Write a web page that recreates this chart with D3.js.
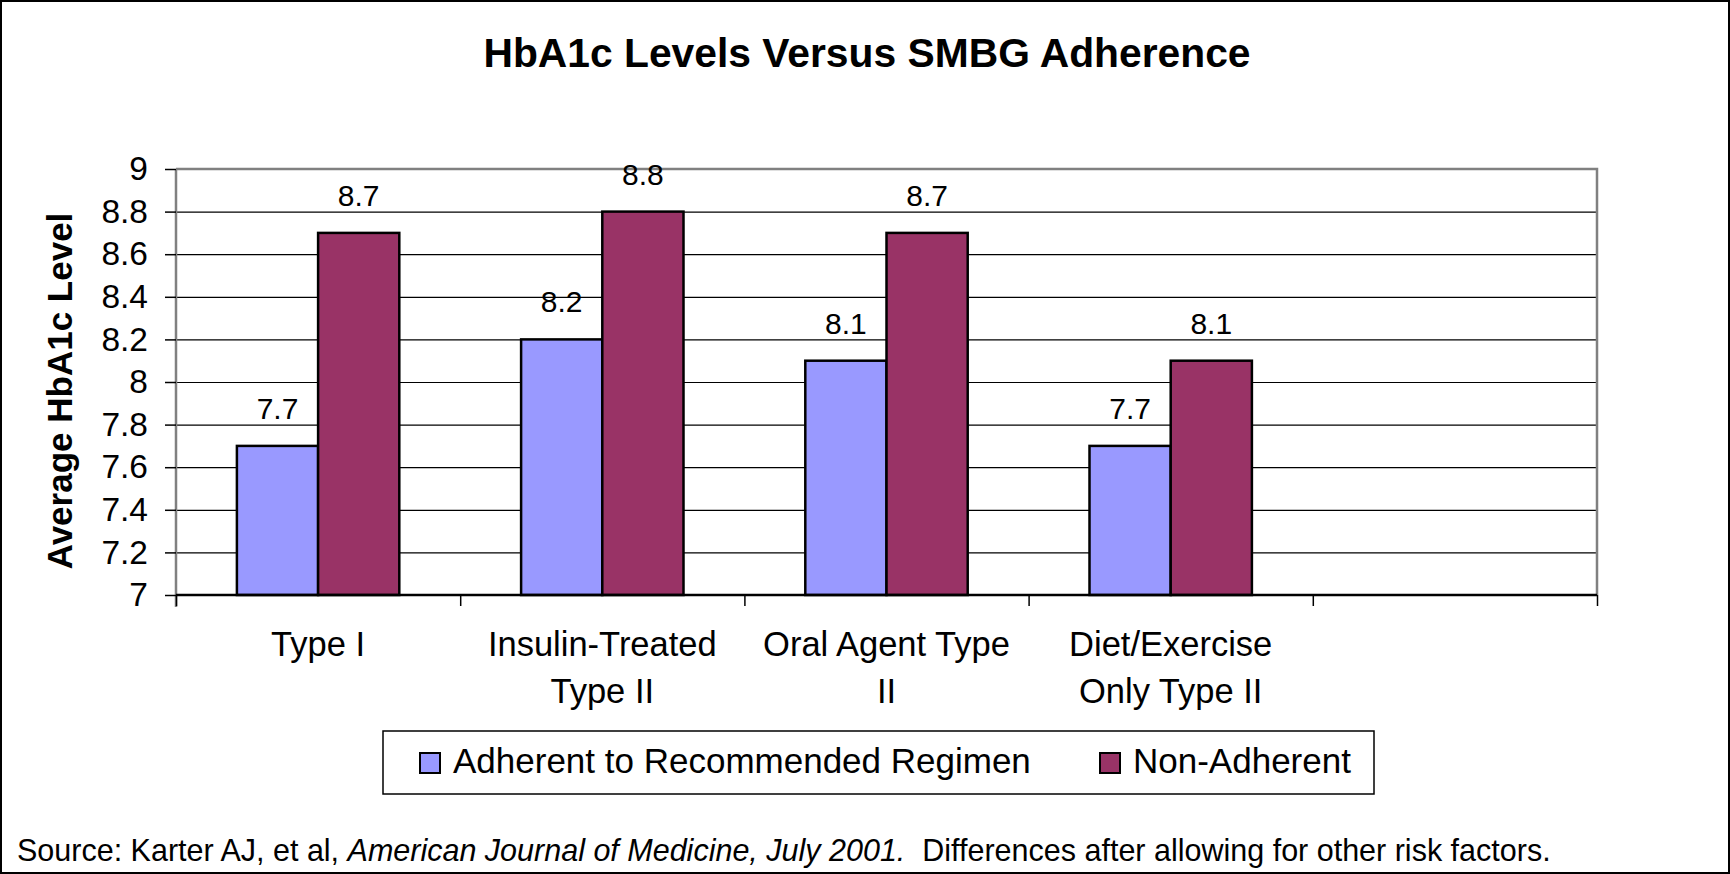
<!DOCTYPE html>
<html>
<head>
<meta charset="utf-8">
<script src="https://cdn.jsdelivr.net/npm/d3@7"></script>
<style>
  html, body { margin: 0; padding: 0; background: #fff; }
  svg { display: block; font-family: "Liberation Sans", Arial, sans-serif; }
</style>
</head>
<body>
<svg id="chart" width="1730" height="874"></svg>
<script>
// ---- data ----
const categories = ["Type I", "Insulin-Treated Type II", "Oral Agent Type II", "Diet/Exercise Only Type II", ""];
const categoryLines = [["Type I"], ["Insulin-Treated", "Type II"], ["Oral Agent Type", "II"], ["Diet/Exercise", "Only Type II"], []];
const seriesNames = ["Adherent to Recommended Regimen", "Non-Adherent"];
const adherent = [7.7, 8.2, 8.1, 7.7];
const nonAdherent = [8.7, 8.8, 8.7, 8.1];
const yTicks = [7, 7.2, 7.4, 7.6, 7.8, 8, 8.2, 8.4, 8.6, 8.8, 9];
const yTickLabels = ["7", "7.2", "7.4", "7.6", "7.8", "8", "8.2", "8.4", "8.6", "8.8", "9"];
const titleText = "HbA1c Levels Versus SMBG Adherence";
const yTitle = "Average HbA1c Level";
const colors = ["#9999FF", "#993366"];

// ---- layout ----
const svg = d3.select("#chart");
const W = 1730, H = 874;
const plot = { left: 176, right: 1597, top: 169, bottom: 595 };

svg.append("rect").attr("x", 1).attr("y", 1).attr("width", W - 2).attr("height", H - 2)
  .attr("fill", "#fff").attr("stroke", "#000").attr("stroke-width", 2);

const x0 = d3.scaleBand().domain(d3.range(categories.length)).range([plot.left, plot.right]).padding(0);
const bw = x0.bandwidth();
const x1 = d3.scaleBand().domain([0, 1]).range([bw * 0.75 / 3.5, bw * 2.75 / 3.5]).padding(0);
const y = d3.scaleLinear().domain([7, 9]).range([plot.bottom, plot.top]);

// gridlines
const grid = svg.append("g").attr("transform", `translate(${plot.left},0)`)
  .call(d3.axisLeft(y).tickValues(yTicks.filter(v => v > 7 && v < 9)).tickSize(-(plot.right - plot.left)).tickFormat(""));
grid.select(".domain").remove();
grid.selectAll("line").attr("stroke", "#000").attr("stroke-width", 1.2);

// plot border (top/right gray)
svg.append("path")
  .attr("d", `M${plot.left},${y(9)}H${plot.right}V${plot.bottom}`)
  .attr("fill", "none").attr("stroke", "#808080").attr("stroke-width", 2.5);

// bars
const seriesData = [adherent, nonAdherent];
const groups = svg.append("g");
seriesData.forEach((vals, s) => {
  groups.selectAll(null).data(vals).enter().append("rect")
    .attr("x", (d, i) => x0(i) + x1(s))
    .attr("y", d => y(d))
    .attr("width", x1.bandwidth())
    .attr("height", d => y(7) - y(d))
    .attr("fill", colors[s])
    .attr("stroke", "#000").attr("stroke-width", 2.5);
  groups.selectAll(null).data(vals).enter().append("text")
    .attr("x", (d, i) => x0(i) + x1(s) + x1.bandwidth() / 2)
    .attr("y", d => y(d) - 27)
    .attr("text-anchor", "middle")
    .attr("font-size", 30)
    .attr("fill", "#000")
    .text(d => d3.format(".1f")(d));
});

// y axis
const yAxis = svg.append("g").attr("transform", `translate(${plot.left},0)`)
  .call(d3.axisLeft(y).tickValues(yTicks).tickSize(11).tickPadding(17)
    .tickFormat((d, i) => yTickLabels[i]));
yAxis.select(".domain").attr("stroke", "#808080").attr("stroke-width", 2.5)
  .attr("d", `M0,${y(9)}V${plot.bottom + 12}`);
yAxis.selectAll(".tick line").attr("stroke", "#000").attr("stroke-width", 1.5);
yAxis.selectAll(".tick text").attr("font-size", 33.5).attr("fill", "#000")
  .attr("font-family", "Liberation Sans, Arial, sans-serif");

// x axis
const boundaries = d3.range(categories.length + 1);
const xb = d3.scaleLinear().domain([0, categories.length]).range([plot.left, plot.right]);
const xAxis = svg.append("g").attr("transform", `translate(0,${plot.bottom})`)
  .call(d3.axisBottom(xb).tickValues(boundaries).tickSize(11).tickFormat(""));
xAxis.select(".domain").attr("stroke", "#000").attr("stroke-width", 2.5)
  .attr("d", `M${plot.left},0H${plot.right}`);
xAxis.selectAll(".tick line").attr("stroke", "#000").attr("stroke-width", 1.5);

// category labels
categoryLines.forEach((lines, i) => {
  lines.forEach((ln, j) => {
    svg.append("text")
      .attr("x", x0(i) + bw / 2)
      .attr("y", 656 + j * 47)
      .attr("text-anchor", "middle")
      .attr("font-size", 34.5)
      .attr("fill", "#000")
      .text(ln);
  });
});

// title
svg.append("text").attr("x", 867).attr("y", 67).attr("text-anchor", "middle")
  .attr("font-size", 40.8).attr("font-weight", "bold").attr("fill", "#000").text(titleText);

// y title
svg.append("text").attr("transform", "translate(72,391) rotate(-90)")
  .attr("text-anchor", "middle").attr("font-size", 35).attr("font-weight", "bold")
  .attr("fill", "#000").text(yTitle);

// legend
svg.append("rect").attr("x", 383).attr("y", 731).attr("width", 991).attr("height", 63)
  .attr("fill", "#fff").attr("stroke", "#000").attr("stroke-width", 1.5);
const legendX = [420, 1100];
seriesNames.forEach((name, s) => {
  svg.append("rect").attr("x", legendX[s]).attr("y", 753).attr("width", 20).attr("height", 20)
    .attr("fill", colors[s]).attr("stroke", "#000").attr("stroke-width", 2);
  svg.append("text").attr("x", legendX[s] + 33).attr("y", 773)
    .attr("font-size", 35).attr("fill", "#000").text(name);
});

// footer
const foot = svg.append("text").attr("x", 17).attr("y", 861).attr("font-size", 30.5).attr("fill", "#000");
foot.append("tspan").text("Source: Karter AJ, et al, ");
foot.append("tspan").attr("font-style", "italic").text("American Journal of Medicine, July 2001.");
foot.append("tspan").text("\u00a0 Differences after allowing for other risk factors.");
</script>
</body>
</html>
